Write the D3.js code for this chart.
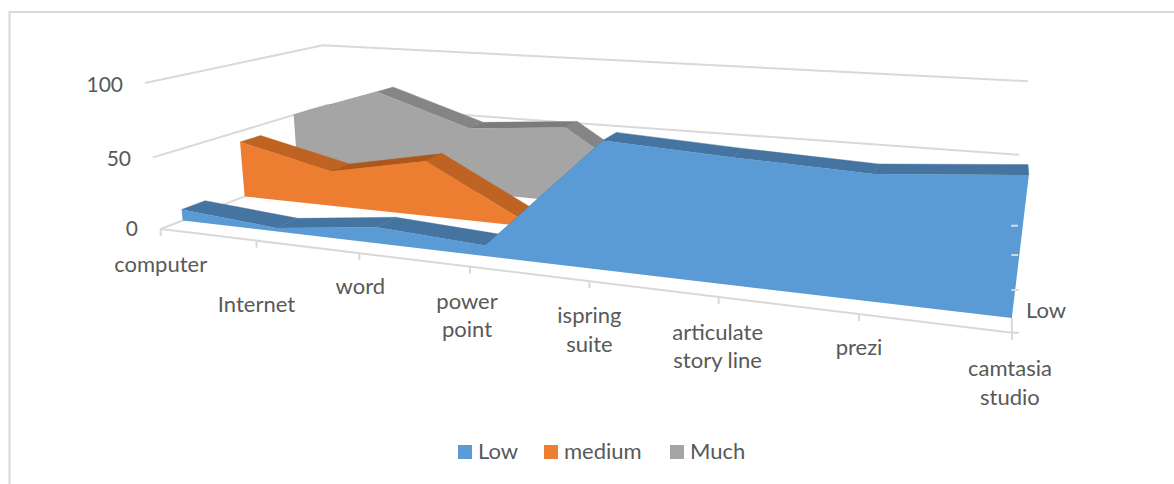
<!DOCTYPE html>
<html>
<head>
<meta charset="utf-8">
<title>3D area chart</title>
<script src="https://d3js.org/d3.v7.min.js"></script>
<style>
html, body { margin: 0; background: #fff; }
svg { display: block; }
text { font-family: Lato, "Open Sans", sans-serif; font-size: 22px; fill: #595959; }
text.val { font-size: 21px; }
</style>
</head>
<body>
<div id="chart"></div>
<script>
var categories = ["computer", "Internet", "word", "power point", "ispring suite", "articulate story line", "prezi", "camtasia studio"];
var seriesNames = ["Low", "medium", "Much"];
var low = [8, 2.5, 11, 7, 80, 76, 73, 79];
var medium = [42, 26, 40, 2, 10, 12, 13, 10];
var much = [50, 73, 50, 56, 10, 12, 14, 11];
var valueTicks = [0, 50, 100];

var seriesValues = [low, medium, much];
var frontColors = ["#5b9bd5", "#ed7d31", "#a5a5a5"];
var fallColors = ["#4674a1", "#bf6323", "#858585"];
var riseColors = ["#4674a1", "#ad571b", "#7b7b7b"];
// category labels, broken by hand like the original
var labelLines = [["computer"], ["Internet"], ["word"], ["power", "point"], ["ispring", "suite"], ["articulate", "story line"], ["prezi"], ["camtasia", "studio"]];
var labelDrop = [43, 71, 41, 42, 42, 43, 41, 43.5];
var labelShift = [0, 0, 1, -3, 0, -1, 0, -2];

var width = 1174, height = 484;

var svg = d3.select("#chart").append("svg").attr("width", width).attr("height", height);

var xScale = d3.scalePoint().domain(categories).range([0, 1]);
var yScale = d3.scaleLinear().domain([0, 100]).range([0, 1]);
var zScale = d3.scaleBand().domain(seriesNames).range([0, 1]).paddingInner(0.64).paddingOuter(0.32);

// box coords (0..1 each way) to screen, fitted on the corners of the chart box
function project(u, v, w) {
  var d = 1 - 0.239 * u - 0.037 * v + 0.25 * w;
  return [(160.7 + 609.4 * u - 21.1 * v + 252 * w) / d,
          (229 + 24.2 * u - 149.1 * v - 25 * w) / d];
}
var line = d3.line();
var gridColor = "#d9d9d9";

function stroke(points) {
  svg.append("path").attr("d", line(points)).attr("fill", "none")
    .attr("stroke", gridColor).attr("stroke-width", 2);
}

// chart frame
svg.append("path").attr("d", "M1174,12H9.5V484").attr("fill", "none").attr("stroke", gridColor).attr("stroke-width", 2);

// walls
valueTicks.forEach(function(t) {
  var v = yScale(t);
  stroke([project(0, v, 0), project(0, v, 1), project(1, v, 1)]);
});

// series back to front
d3.range(seriesNames.length).reverse().forEach(function(s) {
  var vals = seriesValues[s];
  var w0 = zScale(seriesNames[s]), w1 = w0 + zScale.bandwidth();
  var front = categories.map(function(c, i) { return project(xScale(c), yScale(vals[i]), w0); });
  var back = categories.map(function(c, i) { return project(xScale(c), yScale(vals[i]), w1); });

  // top surface, one strip per segment
  d3.range(categories.length - 1).forEach(function(i) {
    svg.append("path")
      .attr("d", line([front[i], front[i + 1], back[i + 1], back[i]]) + "Z")
      .attr("fill", vals[i + 1] > vals[i] ? riseColors[s] : fallColors[s])
      .attr("stroke", vals[i + 1] > vals[i] ? riseColors[s] : fallColors[s])
      .attr("stroke-width", 0.4);
  });

  var base = [project(xScale(categories[categories.length - 1]), 0, w0), project(xScale(categories[0]), 0, w0)];
  svg.append("path").attr("d", line(front.concat(base)) + "Z").attr("fill", frontColors[s]);
});

// floor front edge with ticks
var floorFront = [project(0, 0, 0), project(1, 0, 0)];
stroke(floorFront);
categories.forEach(function(c) {
  var p = project(xScale(c), 0, 0);
  stroke([p, [p[0], p[1] + 7]]);
});

// floor right edge, hidden part goes behind the blue
var rightEdge = [project(1, 0, 0), project(1, 0, zScale("Low"))];
stroke(rightEdge);
[0, 1 / 3, 2 / 3, 1].forEach(function(w) {
  var p = project(1, 0, w);
  stroke([p, [p[0] + 7, p[1]]]);
});

// value labels
var valueAnchors = {0: [138, 236], 50: [131, 166], 100: [123, 92]};
svg.selectAll(".val").data(valueTicks).enter().append("text")
  .attr("class", "val")
  .attr("text-anchor", "end")
  .attr("x", function(d) { return valueAnchors[d][0]; })
  .attr("y", function(d) { return valueAnchors[d][1]; })
  .text(function(d) { return d; });

// category labels
categories.forEach(function(c, i) {
  var p = project(xScale(c), 0, 0);
  var t = svg.append("text").attr("text-anchor", "middle");
  labelLines[i].forEach(function(l, k) {
    t.append("tspan").attr("x", p[0] + labelShift[i]).attr("y", p[1] + labelDrop[i] + k * 28.5).text(l);
  });
});

// series label on the depth axis
svg.append("text").attr("x", 1026).attr("y", 318).text(seriesNames[0]);

// legend
var legendX = [458, 544, 670];
seriesNames.forEach(function(n, i) {
  svg.append("rect").attr("x", legendX[i]).attr("y", 445).attr("width", 14).attr("height", 14).attr("fill", frontColors[i]);
  svg.append("text").attr("x", legendX[i] + 20).attr("y", 459).text(n);
});
</script>
</body>
</html>
